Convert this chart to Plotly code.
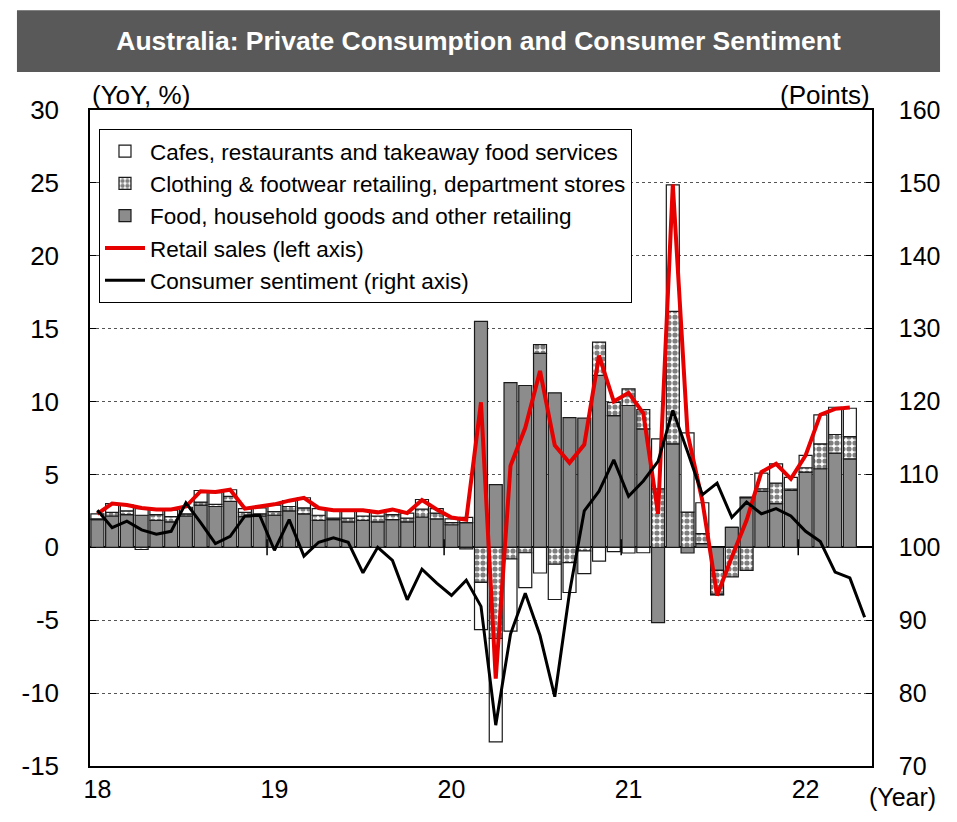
import plotly.graph_objects as go

# ---- data (monthly, Jan 2018 onward) ----
year_labels = ["18", "19", "20", "21", "22"]
left_ticks = [-15, -10, -5, 0, 5, 10, 15, 20, 25, 30]
right_ticks = [70, 80, 90, 100, 110, 120, 130, 140, 150, 160]

food = [1.9, 2.15, 2.25, 2.2, 1.85, 1.75, 2.15, 2.9, 2.8, 3.15, 2.1, 2.15,
        2.2, 2.5, 2.3, 1.85, 1.9, 1.75, 1.85, 1.75, 1.9, 1.75, 2.08, 1.95,
        1.55, 1.7, 15.5, 4.3, 11.3, 11.1, 13.3, 10.6, 8.9, 8.86, 11.8, 9.04,
        9.73, 8.13, -5.16, 7.1, -0.39, 0.25, -1.58, 1.37, 3.4, 3.84, 3.0, 3.9,
        5.16, 5.39, 6.46, 6.07]

clothing = [0.05, 0.25, 0.25, -0.15, 0.4, 0.35, 0.15, 0.2, 0.15, 0.35, 0.3, 0.15,
            0.25, 0.3, 0.4, 0.35, 0.1, 0.25, 0.3, 0.4, 0.35, 0.25, 0.55, 0.4,
            0.15, -0.1, -2.4, -6.25, -0.8, -0.37, 0.6, -1.16, -1.05, -0.25, 2.28, 0.9,
            1.14, 1.32, 4.02, 9.09, 2.42, 0.69, -1.64, -2.03, -1.58, 0.18, 1.4, 0.1,
            0.3, 1.71, 1.28, 1.53]

cafes = [0.35, 0.6, 0.4, 0.45, 0.35, 0.45, 0.45, 0.8, 0.8, 0.45, 0.25, 0.4,
         0.45, 0.4, 0.7, 0.45, 0.55, 0.55, 0.4, 0.3, 0.3, 0.35, 0.65, 0.3,
         0.25, 0.35, -3.25, -7.1, -4.95, -2.4, -1.76, -2.42, -2.05, -1.55, -0.94, -0.3,
         -0.39, -0.37, 3.42, 8.67, 5.43, 2.12, -0.05, 0.0, 0.05, 1.07, 1.33, 0.8,
         0.85, 1.99, 1.87, 1.94]

retail = [2.3, 3.0, 2.9, 2.7, 2.6, 2.6, 2.8, 3.85, 3.8, 3.95, 2.65, 2.8,
          2.95, 3.2, 3.4, 2.7, 2.55, 2.55, 2.55, 2.4, 2.6, 2.35, 3.25, 2.6,
          2.05, 1.9, 9.95, -9.0, 5.6, 8.2, 12.1, 7.0, 5.8, 7.05, 13.15, 10.0,
          10.6, 9.2, 2.3, 24.9, 7.8, 3.2, -3.3, -0.66, 1.85, 5.16, 5.73, 4.7,
          6.3, 9.1, 9.5, 9.6]

sentiment = [105.1, 102.7, 103.6, 102.4, 101.8, 102.2, 106.1, 103.4, 100.5, 101.5, 104.3, 104.4,
             99.6, 103.8, 98.8, 100.7, 101.3, 100.7, 96.5, 100.0, 98.2, 92.8, 97.0, 95.1,
             93.4, 95.5, 91.9, 75.6, 88.1, 93.7, 87.9, 79.5, 93.8, 105.0, 107.7, 112.0,
             107.0, 109.1, 111.8, 118.8, 113.1, 107.2, 108.8, 104.1, 106.2, 104.6, 105.3, 104.3,
             102.2, 100.8, 96.6, 95.8, 90.4]

x_bar = list(range(len(food)))
x_sent = list(range(len(sentiment)))
n_months = len(sentiment)
year_starts = [12 * k for k in range(len(year_labels))]

FONT = "Liberation Sans, Arial, sans-serif"
edge = dict(color="#1a1a1a", width=1.2)

fig = go.Figure()
fig.add_bar(x=x_bar, y=food, name="Food, household goods and other retailing",
            marker=dict(color="#8c8c8c", line=edge), legendrank=3)
fig.add_bar(x=x_bar, y=clothing, name="Clothing & footwear retailing, department stores",
            marker=dict(color="white", line=edge,
                        pattern=dict(shape=".", fgcolor="black", bgcolor="white",
                                     size=6, solidity=0.6)), legendrank=2)
fig.add_bar(x=x_bar, y=cafes, name="Cafes, restaurants and takeaway food services",
            marker=dict(color="white", line=edge), legendrank=1)
fig.add_scatter(x=x_bar, y=retail, mode="lines", name="Retail sales (left axis)",
                line=dict(color="#e60000", width=4), legendrank=4)
fig.add_scatter(x=x_sent, y=sentiment, mode="lines", name="Consumer sentiment (right axis)",
                line=dict(color="black", width=3), yaxis="y2", legendrank=5)

# small year-boundary ticks on the zero line
for s in year_starts[1:]:
    fig.add_shape(type="line", xref="x", yref="y", x0=s - 0.5, x1=s - 0.5, y0=-0.55, y1=0.55,
                  line=dict(color="black", width=1.5))

# title banner
fig.add_shape(type="rect", xref="paper", yref="paper", x0=-0.0934, x1=1.087, y0=1.058, y1=1.152,
              fillcolor="#595959", line=dict(width=0), layer="below")

fig.update_layout(
    width=957, height=822,
    margin=dict(l=90, r=85, t=110, b=56),
    paper_bgcolor="white", plot_bgcolor="white",
    font=dict(family=FONT, size=24, color="black"),
    barmode="relative", bargap=0.12,
    title=dict(text="<b>Australia: Private Consumption and Consumer Sentiment</b>",
               x=0.5, xref="container", xanchor="center", y=1 - 41 / 822, yanchor="middle",
               font=dict(family=FONT, size=26.5, color="white")),
    showlegend=True,
    legend=dict(x=0.0115, y=0.971, xanchor="left", yanchor="top",
                bgcolor="white", bordercolor="black", borderwidth=1,
                font=dict(family=FONT, size=22.5), itemwidth=40, tracegroupgap=0),
    xaxis=dict(range=[-0.5, n_months - 0.5], tickvals=year_starts, ticktext=year_labels,
               ticks="", showline=True, mirror=True, linecolor="black", linewidth=1.5,
               showgrid=False, zeroline=False, tickfont=dict(size=25)),
    yaxis=dict(range=[-15, 30], tickvals=left_ticks, ticktext=[str(v) for v in left_ticks],
               showgrid=True, gridcolor="#555555", griddash="dot",
               gridwidth=1, zeroline=True, zerolinecolor="black", zerolinewidth=2,
               showline=True, linecolor="black", linewidth=1.5,
               ticks="inside", ticklen=6, tickcolor="black", ticklabelstandoff=24,
               tickfont=dict(size=26)),
    yaxis2=dict(range=[70, 160], tickvals=right_ticks, ticktext=[str(v) for v in right_ticks],
                overlaying="y", side="right", showgrid=False,
                zeroline=False, showline=True, linecolor="black", linewidth=1.5,
                ticks="inside", ticklen=6, tickcolor="black", ticklabelstandoff=20,
                tickfont=dict(size=25)),
    annotations=[
        dict(text="(YoY, %)", xref="paper", yref="paper", x=0, y=1.023, xanchor="left",
             yanchor="middle", showarrow=False, font=dict(size=26)),
        dict(text="(Points)", xref="paper", yref="paper", x=1, y=1.023, xanchor="right",
             yanchor="middle", showarrow=False, font=dict(size=26)),
        dict(text="(Year)", xref="paper", yref="paper", x=0.994, y=-0.047, xanchor="left",
             yanchor="middle", showarrow=False, font=dict(size=25)),
    ],
)

fig.write_html("out.html")
